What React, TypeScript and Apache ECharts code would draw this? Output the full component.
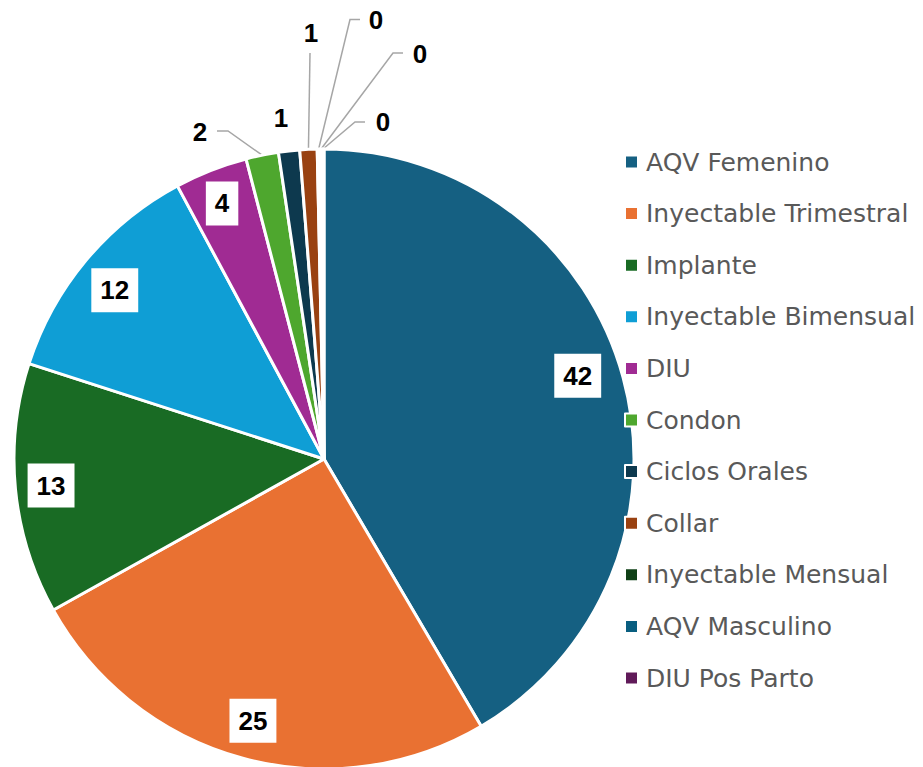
import React, { useEffect, useRef } from 'react';
import * as echarts from 'echarts';

const categories = [
  'AQV Femenino',
  'Inyectable Trimestral',
  'Implante',
  'Inyectable Bimensual',
  'DIU',
  'Condon',
  'Ciclos Orales',
  'Collar',
  'Inyectable Mensual',
  'AQV Masculino',
  'DIU Pos Parto',
];
const values = [41.6, 25.4, 13.1, 12.2, 3.8, 1.7, 1.1, 0.9, 0.15, 0.1, 0.1];
const colors = [
  '#156082', '#E97132', '#196B24', '#0F9ED5', '#A02B93', '#4EA72E',
  '#0D394E', '#994111', '#0F4016', '#095E80', '#601A59',
];

// layout constants (annotation placement only)
const CX = 324;
const CY = 459;
const R = 310;
const INSIDE_R = 0.875 * R;
const insideShift: Record<string, { dx: number; dy: number }> = {
  'AQV Femenino': { dx: -8, dy: -12 },
  'Implante': { dx: -3, dy: 0 },
  'Inyectable Bimensual': { dx: -1, dy: 5 },
  'DIU': { dx: -3, dy: -3 },
};
const outsideLabels: Record<string, { x: number; y: number; line: number[][] | null }> = {
  'Condon': { x: 200, y: 132, line: [[228, 131], [217, 131]] },
  'Ciclos Orales': { x: 281, y: 118, line: null },
  'Collar': { x: 311, y: 33, line: [[310, 53], [310, 53]] },
  'Inyectable Mensual': { x: 376, y: 20, line: [[350, 19.5], [360, 19.5]] },
  'AQV Masculino': { x: 420, y: 54, line: [[393, 53], [403, 53]] },
  'DIU Pos Parto': { x: 383, y: 122, line: [[355, 122], [365, 122]] },
};

export default function App() {
  const ref = useRef<HTMLDivElement>(null);
  useEffect(() => {
    if (!ref.current) return;
    const chart = echarts.init(ref.current, undefined, { renderer: 'svg' });
    const total = values.reduce((a, b) => a + b, 0);
    const mids: number[] = [];
    let acc = 0;
    values.forEach((v) => {
      mids.push(((acc + v / 2) / total) * Math.PI * 2);
      acc += v;
    });
    const data = categories.map((name, i) => {
      const out = outsideLabels[name];
      return {
        name,
        value: values[i],
        itemStyle: { color: colors[i] },
        label: out
          ? { position: 'outside', backgroundColor: 'transparent', padding: 0 }
          : { position: 'inside', backgroundColor: '#ffffff', padding: [9, 9] },
        labelLine: { show: !!(out && out.line) },
      };
    });
    chart.setOption({
      animation: false,
      legend: {
        orient: 'vertical',
        left: 624,
        top: 148,
        padding: 0,
        itemWidth: 13,
        itemHeight: 13,
        itemGap: 23.6,
        icon: 'rect',
        selectedMode: false,
        itemStyle: { borderColor: '#ffffff', borderWidth: 2 },
        textStyle: {
          fontFamily: 'DejaVu Sans',
          fontSize: 25,
          lineHeight: 28,
          color: '#595959',
          padding: [0, 0, 0, 3],
        },
        data: categories,
      },
      series: [
        {
          type: 'pie',
          center: [CX, CY],
          radius: R,
          startAngle: 90,
          clockwise: true,
          avoidLabelOverlap: false,
          emphasis: { disabled: true },
          itemStyle: { borderColor: '#ffffff', borderWidth: 3 },
          label: {
            show: true,
            fontFamily: 'Liberation Sans',
            fontWeight: 'bold',
            fontSize: 26,
            lineHeight: 26,
            color: '#000000',
            formatter: (p: any) => String(Math.round(p.value)),
          },
          labelLine: {
            show: true,
            lineStyle: { color: '#A6A6A6', width: 1.5 },
          },
          labelLayout: (p: any) => {
            const name = categories[p.dataIndex];
            const out = outsideLabels[name];
            if (out) {
              const res: any = { x: out.x, y: out.y, align: 'center', verticalAlign: 'middle' };
              if (out.line && p.labelLinePoints && p.labelLinePoints[0]) {
                res.labelLinePoints = [p.labelLinePoints[0], out.line[0], out.line[1]];
              }
              return res;
            }
            const a = mids[p.dataIndex];
            const s = insideShift[name] || { dx: 0, dy: 0 };
            return {
              x: CX + INSIDE_R * Math.sin(a) + s.dx,
              y: CY - INSIDE_R * Math.cos(a) + s.dy,
              align: 'center',
              verticalAlign: 'middle',
            };
          },
          data,
        },
      ],
    });
    return () => chart.dispose();
  }, []);
  return (
    <div
      ref={ref}
      style={{ position: 'absolute', left: 0, top: 0, width: 923, height: 767, background: '#ffffff' }}
    />
  );
}
